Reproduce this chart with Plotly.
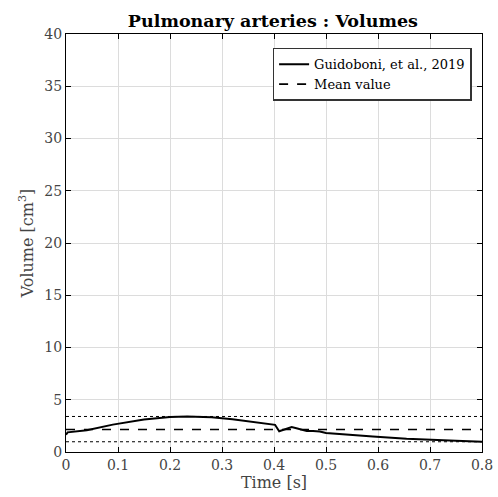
import plotly.graph_objects as go

# Pulmonary artery volume over one cardiac cycle
time_s = [0, 0.003, 0.04, 0.09, 0.15, 0.2, 0.233, 0.26, 0.28, 0.32, 0.36, 0.395,
          0.402, 0.41, 0.42, 0.434, 0.445, 0.463, 0.475, 0.488, 0.5, 0.546, 0.59,
          0.655, 0.7, 0.75, 0.8]
volume_cm3 = [1.65, 1.88, 2.08, 2.62, 3.12, 3.35, 3.4, 3.38, 3.33, 3.14, 2.9, 2.7,
              2.6, 1.98, 2.15, 2.38, 2.25, 2.0, 2.02, 1.97, 1.82, 1.68, 1.48,
              1.26, 1.15, 1.08, 0.98]

vol_max = max(volume_cm3)
vol_min = min(volume_cm3)
vol_mean = 2.16
t_span = [0, 0.8]

x_ticks = [0, 0.1, 0.2, 0.3, 0.4, 0.5, 0.6, 0.7, 0.8]
y_ticks = [0, 5, 10, 15, 20, 25, 30, 35, 40]

FONT = "DejaVu Serif"

fig = go.Figure()
fig.add_trace(go.Scatter(x=time_s, y=volume_cm3, mode="lines",
                         line=dict(color="black", width=2),
                         name="Guidoboni, et al., 2019"))
fig.add_trace(go.Scatter(x=t_span, y=[vol_mean, vol_mean], mode="lines",
                         line=dict(color="black", width=1.6, dash="dash"),
                         name="Mean value"))
for level in (vol_max, vol_min):
    fig.add_trace(go.Scatter(x=t_span, y=[level, level], mode="lines",
                             line=dict(color="black", width=1, dash="dot"),
                             showlegend=False, hoverinfo="skip"))

axis_common = dict(showline=True, linecolor="black", linewidth=1.2, mirror="ticks",
                   ticks="inside", ticklen=5, tickcolor="black",
                   showgrid=True, gridcolor="#dcdcdc", gridwidth=1,
                   zeroline=False, automargin=False,
                   tickfont=dict(family=FONT, size=14, color="#444"))

fig.update_layout(
    width=498, height=497,
    margin=dict(l=66, r=16, t=34, b=45),
    paper_bgcolor="white", plot_bgcolor="white",
    title=dict(text="<b>Pulmonary arteries : Volumes</b>", x=0.548, xanchor="center",
               y=0.958, yanchor="middle",
               font=dict(family=FONT, size=17.5, color="black")),
    xaxis=dict(range=[0, 0.8], tickvals=x_ticks, ticktext=[str(v) for v in x_ticks],
               title=dict(text="Time [s]", font=dict(family=FONT, size=16, color="#444"),
                          standoff=2),
               **axis_common),
    yaxis=dict(range=[0, 40], tickvals=y_ticks,
               title=dict(text="Volume [cm<sup>3</sup>]",
                          font=dict(family=FONT, size=16, color="#444"), standoff=6),
               **axis_common),
    legend=dict(x=0.975, xanchor="right", y=0.967, yanchor="top",
                bgcolor="white", bordercolor="#333", borderwidth=1.5,
                font=dict(family=FONT, size=13, color="black"),
                tracegroupgap=0, itemwidth=30),
    showlegend=True,
)

fig.write_html("out.html")
